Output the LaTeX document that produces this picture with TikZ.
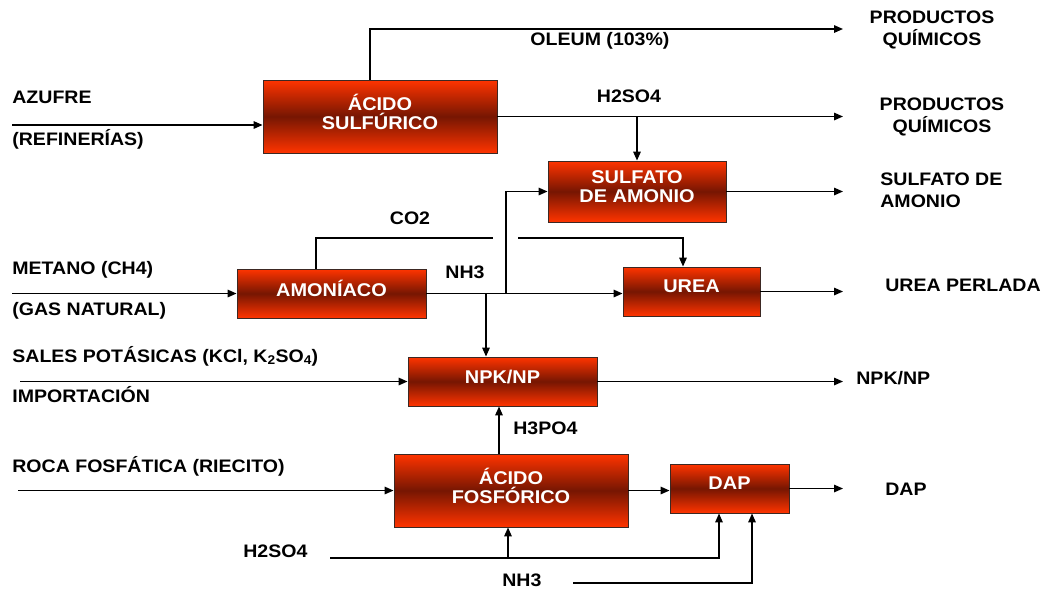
\documentclass[tikz,border=0pt]{standalone}
\usepackage{fontspec}
\setmainfont{Liberation Sans}[FakeStretch=1.08]
\usepackage{tikz}
\usetikzlibrary{arrows.meta,positioning,calc}

\definecolor{boxhi}{RGB}{255,52,0}
\definecolor{boxlo}{RGB}{118,22,2}
\definecolor{boxline}{RGB}{60,40,35}

\begin{document}
\begin{tikzpicture}[x=0.2mm, y=-0.2mm,
    unit/.style={draw=boxline, line width=0.5pt, top color=boxhi, bottom color=boxhi, middle color=boxlo,
        text=white, font=\fontsize{10.5}{11}\selectfont\bfseries, align=center, inner sep=0pt, text depth=2mm},
    lbl/.style={font=\fontsize{10.3}{12.5}\selectfont\bfseries, inner sep=0pt, anchor=west, align=left},
    lblc/.style={font=\fontsize{10.3}{12.5}\selectfont\bfseries, inner sep=0pt, align=center},
    flow/.style={line width=0.3mm, -{Triangle[length=1.8mm,width=1.5mm]}},
    pipe/.style={line width=0.3mm},
]
\useasboundingbox (0,0) rectangle (1044,592);

% Units
\node[unit, minimum width=46.8mm, minimum height=14.6mm] (sulf) at (380,116.5) {ÁCIDO\\SULFÚRICO};
\node[unit, minimum width=35.6mm, minimum height=12.2mm] (sam) at (637,191.5) {SULFATO\\DE AMONIO};
\node[unit, minimum width=37.8mm, minimum height=9.8mm] (amon) at (331.5,293.5) {AMONÍACO};
\node[unit, minimum width=27.4mm, minimum height=9.8mm] (urea) at (691.5,291.5) {UREA};
\node[unit, minimum width=37.8mm, minimum height=9.8mm] (npk) at (502.5,381.5) {NPK/NP};
\node[unit, minimum width=46.8mm, minimum height=14.6mm] (fos) at (511,490.5) {ÁCIDO\\FOSFÓRICO};
\node[unit, minimum width=23.8mm, minimum height=9.8mm] (dap) at (729.5,488.5) {DAP};

% Inputs
\node[lbl] (azufre) at (12,97) {AZUFRE};
\node[lbl] (refin) at (12,139) {(REFINERÍAS)};
\node[lbl] (metano) at (12,270) {METANO (CH4)};
\node[lbl] (gasnat) at (12,311) {(GAS NATURAL)};
\node[lbl] (sales) at (12,356) {SALES POTÁSICAS (KCl, K$_\mathbf{2}$SO$_\mathbf{4}$)};
\node[lbl] (import) at (12,395) {IMPORTACIÓN};
\node[lbl] (roca) at (12,466) {ROCA FOSFÁTICA (RIECITO)};
\node[lbl] (hsbot) at (243,551) {H2SO4};
\node[lbl] (nhbot) at (502,580) {NH3};

% Stream labels
\node[lblc] (oleum) at (600,41) {OLEUM (103\%)};
\node[lblc] (hstop) at (629,96) {H2SO4};
\node[lblc] (co2) at (410,218) {CO2};
\node[lblc] (nhmid) at (465,272) {NH3};
\node[lbl] (hpo) at (513,428) {H3PO4};

% Products
\node[lblc] (prodA) at (932,30) {PRODUCTOS\\QUÍMICOS};
\node[lblc] (prodB) at (942,117) {PRODUCTOS\\QUÍMICOS};
\node[lbl] (prodSam) at (880,190) {SULFATO DE\\AMONIO};
\node[lbl] (prodUrea) at (885,285) {UREA PERLADA};
\node[lbl] (prodNpk) at (856,378) {NPK/NP};
\node[lbl] (prodDap) at (885,489) {DAP};

% Free ends and taps
\coordinate (azIn) at (12,125);
\coordinate (meIn) at (12,293.5);
\coordinate (saIn) at (20,381.5);
\coordinate (roIn) at (18,490.5);
\coordinate (olEnd) at (843,29);
\coordinate (hsEnd) at (843,116.5);
\coordinate (samEnd) at (843,191.5);
\coordinate (ureaEnd) at (843,291.5);
\coordinate (npkEnd) at (843,381.5);
\coordinate (dapEnd) at (843,488.5);
\coordinate (co2a) at (493,238);
\coordinate (co2b) at (518,238);
\coordinate (nhUp) at (506,293.5);
\coordinate (hsB) at (330,558);
\coordinate (nhB) at (573,583);
\coordinate (sulfTop) at ([xshift=-2mm]sulf.north);
\coordinate (amonTop) at ([xshift=-3.1mm]amon.north);
\coordinate (ureaTop) at ([xshift=-1.7mm]urea.north);
\coordinate (npkTop) at ([xshift=-3.3mm]npk.north);
\coordinate (fosTop) at ([xshift=-2.4mm]fos.north);
\coordinate (fosBot) at ([xshift=-0.6mm]fos.south);
\coordinate (dapBotA) at ([xshift=-2.1mm]dap.south);
\coordinate (dapBotB) at ([xshift=4.5mm]dap.south);

% Sulfuric acid
\draw[flow] (azIn) -- (azIn -| sulf.west);
\draw[flow] (sulfTop) |- (olEnd);
\draw[flow] (sulf.east) -- (hsEnd);
\draw[flow] (sulf.east -| sam.north) -- (sam.north);
\draw[flow] (sam.east) -- (samEnd);

% Ammonia / urea
\draw[flow] (meIn) -- (amon.west);
\draw[pipe] (amonTop) |- (co2a);
\draw[flow] (co2b) -| (ureaTop);
\draw[flow] (amon.east) -- (amon.east -| urea.west);
\draw[flow] (nhUp) |- (sam.west);
\draw[flow] (npkTop |- amon.east) -- (npkTop);
\draw[flow] (urea.east) -- (ureaEnd);

% NPK
\draw[flow] (saIn) -- (npk.west);
\draw[flow] (npk.east) -- (npkEnd);

% Phosphoric acid / DAP
\draw[flow] (roIn) -- (fos.west);
\draw[flow] (fosTop) -- (fosTop |- npk.south);
\draw[flow] (fos.east) -- (fos.east -| dap.west);
\draw[flow] (dap.east) -- (dapEnd);
\draw[flow] (hsB) -| (dapBotA);
\draw[flow] (hsB -| fosBot) -- (fosBot);
\draw[flow] (nhB) -| (dapBotB);
\end{tikzpicture}
\end{document}
